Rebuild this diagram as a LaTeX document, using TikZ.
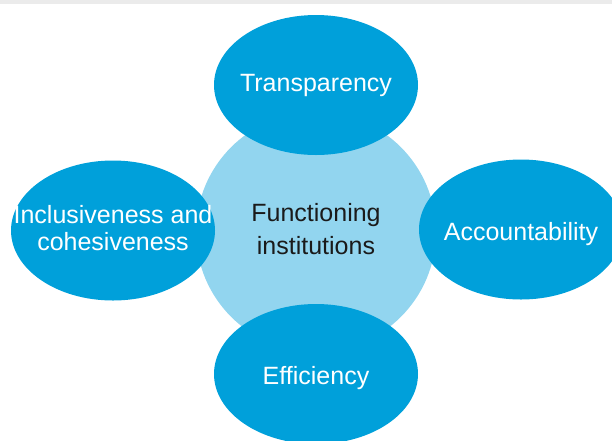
\documentclass[tikz,border=0pt]{standalone}
\usepackage{fontspec}
\setmainfont{Liberation Sans}
\usepackage{tikz}
\definecolor{bubbleblue}{RGB}{0,160,218}
\definecolor{coreblue}{RGB}{146,213,239}
\definecolor{bandgray}{RGB}{235,235,235}
\definecolor{coretext}{RGB}{26,26,26}
\tikzset{
  BubbleFill/.style = {fill = bubbleblue},
  CoreFill/.style = {fill = coreblue},
  BubbleText/.style = {align=center, inner sep=0pt, text centered, white, font = \fontsize{25}{26.5}\selectfont},
  CoreText/.style = {align=center, inner sep=0pt, text centered, coretext, font = \fontsize{25}{33}\selectfont}
}

\begin{document}
\begin{tikzpicture}[x=1pt,y=-1pt]
    \useasboundingbox (0,0) rectangle (612,440);
    \fill[bandgray] (0,0) rectangle (612,4);
    % centre disc
    \fill[CoreFill] (316,232) circle (120);
    % four outer bubbles
    \fill[BubbleFill] (316,85) ellipse (102 and 70);
    \fill[BubbleFill] (113,230.5) ellipse (102 and 70);
    \fill[BubbleFill] (521,229.5) ellipse (102 and 70);
    \fill[BubbleFill] (316,374) ellipse (102 and 70);
    % labels
    \node [CoreText] (core) at (316,229.5) {Functioning\\institutions};
    \node [BubbleText, anchor=base] (transparency) at (316,91) {Transparency};
    \node [BubbleText, anchor=base] (accountability) at (521,240) {Accountability};
    \node [BubbleText, anchor=base] (efficiency) at (316,384) {Efficiency};
    \node [BubbleText] (inclusiveness) at (113,228) {Inclusiveness and\\cohesiveness};
\end{tikzpicture}
\end{document}
